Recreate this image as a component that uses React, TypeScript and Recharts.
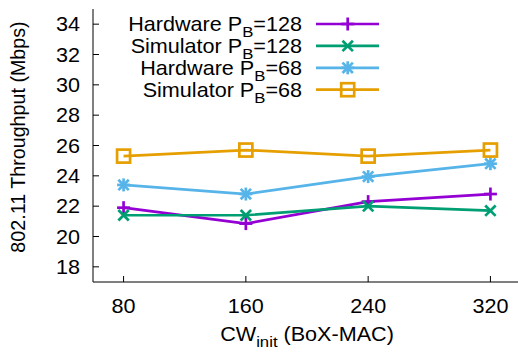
import React from "react";
import { LineChart, Line, XAxis, YAxis } from "recharts";

// Initial contention window values (BoX-MAC)
const cwInit = [80, 160, 240, 320];

// 802.11 throughput in Mbps per configuration
const hardware128 = [21.9, 20.85, 22.3, 22.8];
const simulator128 = [21.4, 21.4, 22.0, 21.7];
const hardware68 = [23.4, 22.8, 23.95, 24.8];
const simulator68 = [25.3, 25.7, 25.3, 25.7];

const yTicks = [18, 20, 22, 24, 26, 28, 30, 32, 34];

const rows = cwInit.map((cw, i) => ({
  cw,
  hw128: hardware128[i],
  sim128: simulator128[i],
  hw68: hardware68[i],
  sim68: simulator68[i],
}));

const FONT = "'Liberation Sans', Arial, Helvetica, sans-serif";
const FS = 20;
const SUB = 15.5;
const SX = 1.08;
const SW = 2.7;

type Shape = "plus" | "cross" | "star" | "square";

// Horizontally widened text label
const HText = ({
  x,
  y,
  anchor,
  children,
}: {
  x: number;
  y: number;
  anchor: "start" | "middle" | "end";
  children: React.ReactNode;
}) => (
  <text
    transform={`translate(${x},${y}) scale(${SX},1)`}
    x={0}
    y={0}
    textAnchor={anchor}
    fontSize={FS}
    fontFamily={FONT}
    fill="#000"
  >
    {children}
  </text>
);

const Marker = ({ cx, cy, shape, color }: { cx: number; cy: number; shape: Shape; color: string }) => {
  const r = 6.5;
  const d = 5.2;
  if (shape === "plus")
    return (
      <g stroke={color} strokeWidth={SW} fill="none">
        <line x1={cx - r} y1={cy} x2={cx + r} y2={cy} />
        <line x1={cx} y1={cy - r} x2={cx} y2={cy + r} />
      </g>
    );
  if (shape === "cross")
    return (
      <g stroke={color} strokeWidth={SW} fill="none">
        <line x1={cx - d} y1={cy - d} x2={cx + d} y2={cy + d} />
        <line x1={cx - d} y1={cy + d} x2={cx + d} y2={cy - d} />
      </g>
    );
  if (shape === "star")
    return (
      <g stroke={color} strokeWidth={SW} fill="none">
        <line x1={cx - r} y1={cy} x2={cx + r} y2={cy} />
        <line x1={cx} y1={cy - r} x2={cx} y2={cy + r} />
        <line x1={cx - d} y1={cy - d} x2={cx + d} y2={cy + d} />
        <line x1={cx - d} y1={cy + d} x2={cx + d} y2={cy - d} />
      </g>
    );
  return (
    <rect x={cx - 6.5} y={cy - 6.5} width={13} height={13} stroke={color} strokeWidth={SW} fill="none" />
  );
};

const series: { key: string; name: string; sub: string; tail: string; color: string; shape: Shape }[] = [
  { key: "hw128", name: "Hardware P", sub: "B", tail: "=128", color: "#9400d3", shape: "plus" },
  { key: "sim128", name: "Simulator P", sub: "B", tail: "=128", color: "#009e73", shape: "cross" },
  { key: "hw68", name: "Hardware P", sub: "B", tail: "=68", color: "#56b4e9", shape: "star" },
  { key: "sim68", name: "Simulator P", sub: "B", tail: "=68", color: "#e69f00", shape: "square" },
];

const LeftTick = (props: any) => {
  const { x, y, payload } = props;
  const ax = x + 13;
  return (
    <g>
      <line x1={ax} y1={y} x2={ax + 6} y2={y} stroke="#000" strokeWidth={1} />
      <HText x={x} y={y + 7} anchor="end">
        {payload.value}
      </HText>
    </g>
  );
};

const RightTick = (props: any) => {
  const { x, y } = props;
  return <line x1={x} y1={y} x2={x - 6} y2={y} stroke="#000" strokeWidth={1} />;
};

const BottomTick = (props: any) => {
  const { x, y, payload } = props;
  return (
    <g>
      <line x1={x} y1={y} x2={x} y2={y - 6} stroke="#000" strokeWidth={1} />
      <HText x={x} y={y + 31} anchor="middle">
        {payload.value}
      </HText>
    </g>
  );
};

const TopTick = (props: any) => {
  const { x, y } = props;
  return <line x1={x} y1={y} x2={x} y2={y + 6} stroke="#000" strokeWidth={1} />;
};

const LegendBlock = () => (
  <svg
    width={518}
    height={120}
    style={{ position: "absolute", left: 0, top: 0, pointerEvents: "none" }}
  >
    {series.map((s, i) => {
      const cy = 24 + i * 21.9;
      return (
        <g key={s.key}>
          <HText x={302} y={cy + 7} anchor="end">
            {s.name}
            <tspan fontSize={SUB} dy={6}>
              {s.sub}
            </tspan>
            <tspan fontSize={FS} dy={-6}>
              {s.tail}
            </tspan>
          </HText>
          <line x1={316} y1={cy} x2={379} y2={cy} stroke={s.color} strokeWidth={SW} />
          <Marker cx={347.7} cy={cy} shape={s.shape} color={s.color} />
        </g>
      );
    })}
  </svg>
);

export default function App() {
  return (
    <div
      style={{
        position: "fixed",
        left: 0,
        top: 0,
        width: 518,
        height: 354,
        overflow: "hidden",
        background: "#fff",
      }}
    >
      <LineChart
        width={530}
        height={354}
        data={rows}
        margin={{ top: 9, right: 9, bottom: 12, left: 0 }}
      >
        <XAxis
          dataKey="cw"
          type="number"
          domain={[60, 340]}
          ticks={cwInit}
          xAxisId="bottom"
          height={60}
          tickLine={false}
          tickSize={0}
          tickMargin={0}
          tick={<BottomTick />}
          axisLine={{ stroke: "#000", strokeWidth: 1 }}
        />
        <XAxis
          dataKey="cw"
          type="number"
          domain={[60, 340]}
          ticks={cwInit}
          xAxisId="top"
          orientation="top"
          height={0}
          tickLine={false}
          tickSize={0}
          tickMargin={0}
          tick={<TopTick />}
          axisLine={{ stroke: "#000", strokeWidth: 1 }}
        />
        <YAxis
          yAxisId="left"
          type="number"
          domain={[17, 35]}
          ticks={yTicks}
          width={93}
          tickLine={false}
          tickSize={0}
          tickMargin={13}
          tick={<LeftTick />}
          axisLine={{ stroke: "#000", strokeWidth: 1 }}
          interval={0}
        />
        <YAxis
          yAxisId="right"
          orientation="right"
          type="number"
          domain={[17, 35]}
          ticks={yTicks}
          width={0}
          tickLine={false}
          tickSize={0}
          tickMargin={0}
          tick={<RightTick />}
          axisLine={{ stroke: "#000", strokeWidth: 1 }}
          interval={0}
        />
        {series.map((s) => (
          <Line
            key={s.key}
            xAxisId="bottom"
            yAxisId="left"
            dataKey={s.key}
            stroke={s.color}
            strokeWidth={SW}
            isAnimationActive={false}
            dot={(p: any) => (
              <Marker key={`${s.key}-${p.index}`} cx={p.cx} cy={p.cy} shape={s.shape} color={s.color} />
            )}
            activeDot={false}
          />
        ))}
        <text
          x={17.5}
          y={137}
          transform="rotate(-90 17.5 137)"
          textAnchor="middle"
          dominantBaseline="central"
          fontSize={19.7}
          fontFamily={FONT}
          fill="#000"
        >
          802.11 Throughput (Mbps)
        </text>
        <HText x={307} y={341} anchor="middle">
          CW
          <tspan fontSize={SUB} dy={6}>
            init
          </tspan>
          <tspan fontSize={FS} dy={-6}>
            {" (BoX-MAC)"}
          </tspan>
        </HText>
      </LineChart>
      <LegendBlock />
    </div>
  );
}
